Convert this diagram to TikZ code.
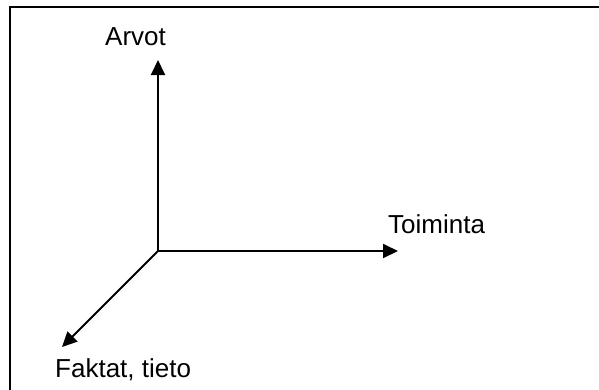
\documentclass[tikz,border=0pt]{standalone}
\usepackage{fontspec}
\setmainfont{Liberation Sans}
\usetikzlibrary{positioning,arrows.meta}

\begin{document}
\begin{tikzpicture}[x=1pt,y=-1pt,
  ax/.style={draw,line width=2pt,-{Triangle[length=15pt,width=14pt]}},
  lbl/.style={anchor=base west,inner sep=0pt,font=\fontsize{26}{30}\selectfont}]
\useasboundingbox (0,0) rectangle (599,389);
\clip (0,0) rectangle (599,389);
\draw[line width=2pt] (10,7) rectangle (620,410);
\coordinate (o) at (158,251);
\coordinate (arvotpaa) at (158,60);
\coordinate (toimintapaa) at (398,251);
\coordinate (faktapaa) at (62,347);
\draw[ax] (o) -- (arvotpaa);
\draw[ax] (o) -- (toimintapaa);
\draw[ax] (o) -- (faktapaa);
\node[lbl] (arvot) at (105,45) {Arvot};
\node[lbl] (toiminta) at (388,233) {Toiminta};
\node[lbl] (faktat) at (55,377) {Faktat, tieto};
\end{tikzpicture}
\end{document}
